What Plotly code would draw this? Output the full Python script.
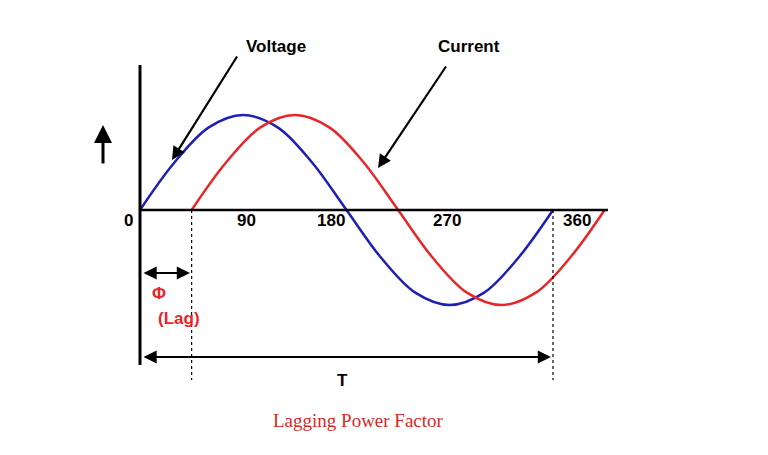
import plotly.graph_objects as go

# phase angle in degrees, values in units of peak amplitude
voltage_deg = [0, 30, 60, 90, 120, 150, 180, 210, 240, 270, 300, 330, 360]
voltage_val = [0, 0.5, 0.87, 1, 0.87, 0.5, 0, -0.5, -0.87, -1, -0.87, -0.5, 0]
current_deg = [45, 75, 105, 135, 165, 195, 225, 255, 285, 315, 345, 375, 405]
current_val = [0, 0.5, 0.87, 1, 0.87, 0.5, 0, -0.5, -0.87, -1, -0.87, -0.5, 0]
tick_labels = ['0', '90', '180', '270', '360']

W, H = 768, 455
OFF = 8  # page body margin
PX_PER_DEG = 413 / 360
PX_PER_UNIT = 95
X0, Y0 = 140 - OFF, 210 - OFF

fig = go.Figure()
fig.add_trace(go.Scatter(x=voltage_deg, y=voltage_val, mode='lines', line_shape='spline',
                         line=dict(color='#1f1fb4', width=2.5), name='Voltage'))
fig.add_trace(go.Scatter(x=current_deg, y=current_val, mode='lines', line_shape='spline',
                         line=dict(color='#e8262a', width=2.5), name='Current'))

# axes drawn as lines
fig.add_shape(type='line', x0=0, x1=0, y0=(210 - 65) / PX_PER_UNIT, y1=(210 - 365) / PX_PER_UNIT,
              line=dict(color='black', width=3))
fig.add_shape(type='line', x0=0, x1=(608 - 140) / PX_PER_DEG, y0=0, y1=0,
              line=dict(color='black', width=2.5))
for d in [45, 360]:
    fig.add_shape(type='line', x0=d, x1=d, y0=0, y1=(210 - 380) / PX_PER_UNIT,
                  line=dict(color='black', width=1.2, dash='dot'))


def ann(x, y, text, **kw):
    fig.add_annotation(x=(x - OFF) / W, y=1 - (y - OFF) / H, xref='paper', yref='paper',
                       text=text, showarrow=False, xanchor='center', yanchor='middle', **kw)


bold = dict(family='Liberation Sans', size=17, color='black')
ann(276, 46, '<b>Voltage</b>', font=bold)
ann(469, 46, '<b>Current</b>', font=bold)
for lab, x in zip(tick_labels, [128, 246, 331, 447, 577]):
    ann(x, 220, '<b>%s</b>' % lab, font=bold)
ann(342, 380, '<b>T</b>', font=bold)
red = dict(family='Liberation Sans', size=17, color='#e8262a')
ann(159, 293, '<b>Φ</b>', font=red)
ann(179, 318, '<b>(Lag)</b>', font=red)
ann(358, 420, 'Lagging Power Factor',
    font=dict(family='Liberation Serif', size=19, color='#d42a2a'))


def arrow(x0, y0, x1, y1, both=False, width=2.2):
    fig.add_annotation(x=(x1 - OFF) / W, y=1 - (y1 - OFF) / H, xref='paper', yref='paper',
                       ax=x0 - x1, ay=y0 - y1, text='', showarrow=True,
                       arrowhead=2, arrowsize=1.2, arrowwidth=width, arrowcolor='black',
                       arrowside='end+start' if both else 'end', startarrowhead=2,
                       startarrowsize=1.2)


arrow(238, 55, 172, 160)
arrow(447, 65, 378, 168)
arrow(103, 165, 103, 125, width=3)
arrow(142, 273, 190, 273, both=True)
arrow(142, 357, 551, 357, both=True)

fig.update_layout(width=W, height=H, margin=dict(l=0, r=0, t=0, b=0),
                  plot_bgcolor='white', paper_bgcolor='white', showlegend=False,
                  xaxis=dict(range=[-X0 / PX_PER_DEG, (W - X0) / PX_PER_DEG], visible=False),
                  yaxis=dict(range=[(Y0 - H) / PX_PER_UNIT, Y0 / PX_PER_UNIT], visible=False))
fig.write_html('out.html')
